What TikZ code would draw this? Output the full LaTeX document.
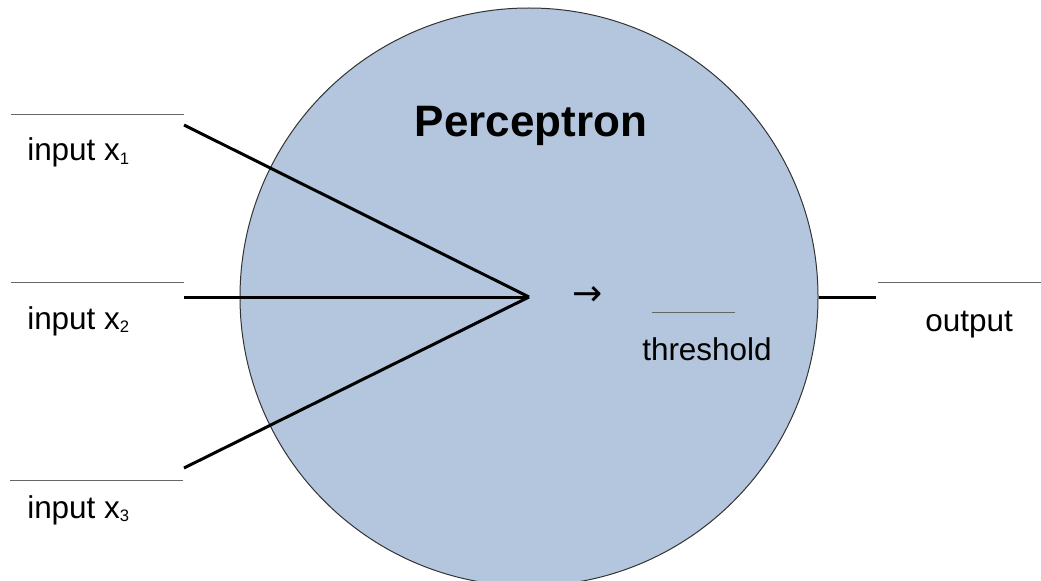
\documentclass[tikz,border=0pt]{standalone}
\usepackage{fontspec}
\setmainfont{Liberation Sans}
\newfontfamily\arrowfont{DejaVu Sans}
\definecolor{percfill}{RGB}{179,198,221}
\newcommand\lowsub[1]{\raisebox{-2.4pt}{\fontsize{12.5}{14}\selectfont #1}}
\begin{document}
\begin{tikzpicture}[x=0.75pt,y=-0.75pt,
  rule/.style={draw=black!60, line width=0.75pt},
  conn/.style={draw=black, line width=2.25pt},
  lbl/.style={font=\fontsize{23.6}{28}\selectfont, inner sep=0pt, anchor=base west},
  perceptron/.style={circle, draw=black!80, line width=0.75pt, fill=percfill, minimum size=433.5pt, inner sep=0pt}]
\useasboundingbox (0,0) rectangle (1041,581);
\begin{scope}
\clip (0,0) rectangle (1041,581);
\node[perceptron] (perc) at (529,297) {};
\end{scope}
\node[font=\bfseries\fontsize{33}{40}\selectfont, inner sep=0pt, anchor=base] (title) at (531,137) {Perceptron};
% junction and input ends
\coordinate (j) at (529,297);
\coordinate (i1) at (184,125);
\coordinate (i2) at (184,297);
\coordinate (i3) at (184,468);
\coordinate (o) at (876,297);
\coordinate (r1a) at (11,115); \coordinate (r1b) at (184,115);
\coordinate (r2a) at (11,282); \coordinate (r2b) at (184,282);
\coordinate (r3a) at (10,480); \coordinate (r3b) at (183,480);
\coordinate (roa) at (878,282); \coordinate (rob) at (1041,282);
\coordinate (rta) at (652,312.5); \coordinate (rtb) at (735,312.5);
\draw[rule] (r1a) -- (r1b);
\draw[rule] (r2a) -- (r2b);
\draw[rule] (r3a) -- (r3b);
\draw[rule] (roa) -- (rob);
\draw[rule] (rta) -- (rtb);
\draw[conn] (i1) -- (j);
\draw[conn] (i2) -- (j);
\draw[conn] (i3) -- (j);
\draw[conn] (perc.east) -- (o);
\node[lbl] (x1) at (27,161) {input x\lowsub{1}};
\node[lbl] (x2) at (27,329) {input x\lowsub{2}};
\node[lbl] (x3) at (27,518) {input x\lowsub{3}};
\node[lbl] (out) at (925,331) {output};
\node[lbl] (thr) at (642,360) {threshold};
\node[font=\arrowfont\fontsize{27}{30}\selectfont, inner sep=0pt] (arr) at (588,296) {→};
\end{tikzpicture}
\end{document}
